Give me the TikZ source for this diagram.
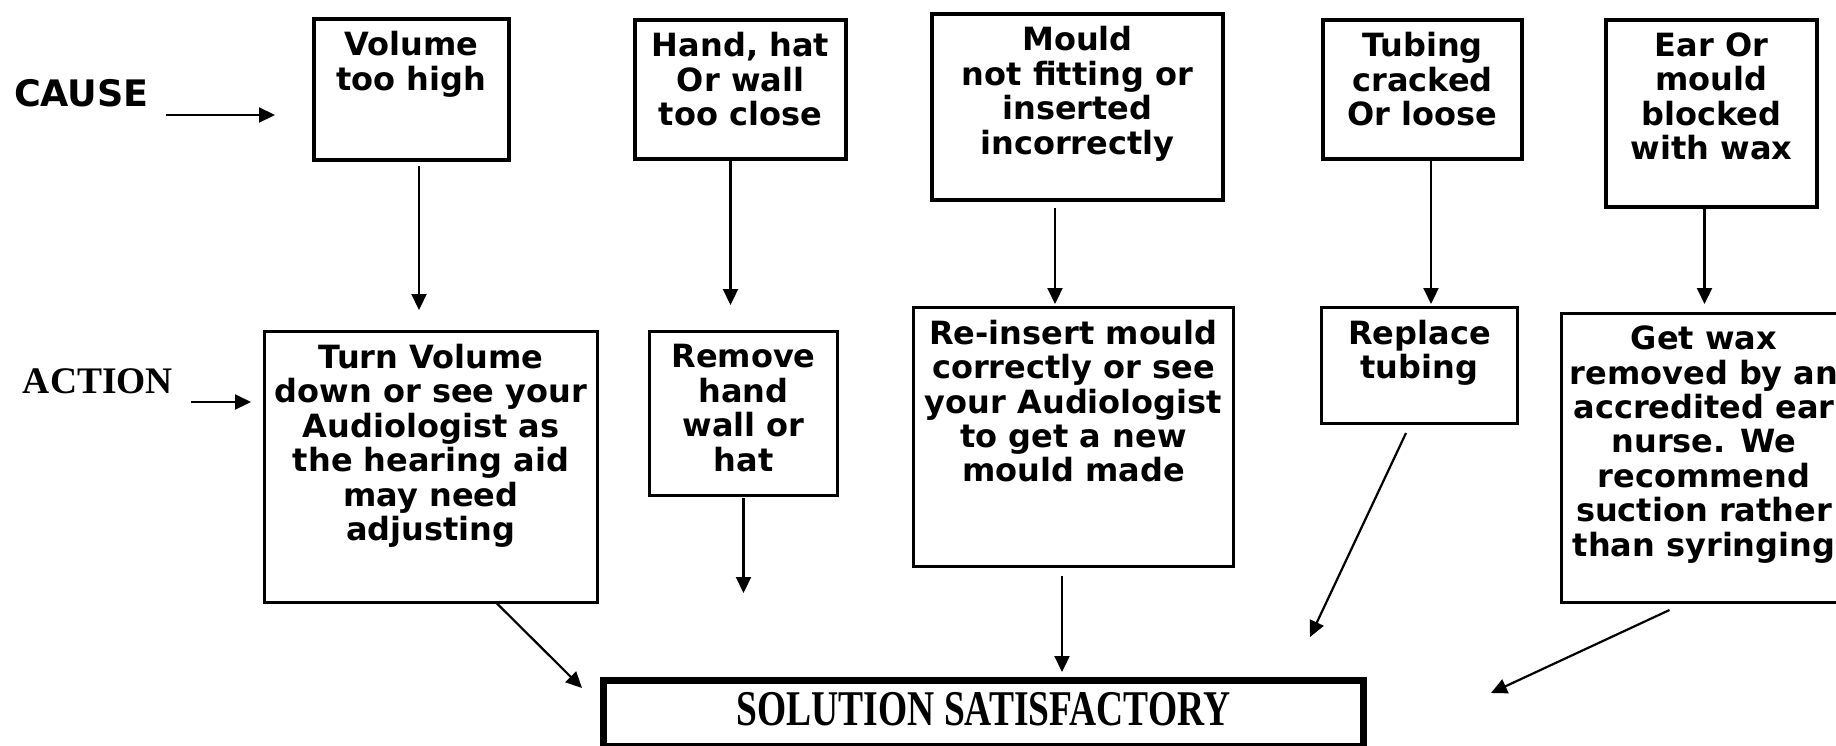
\documentclass[tikz,border=0pt]{standalone}
\usepackage{fontspec}
\usetikzlibrary{arrows.meta,calc}
\newfontfamily\vfont{DejaVu Sans}
\newfontfamily\tfont{Liberation Serif}
\newcommand\btext[3]{\vbox to #2{\vskip12.4pt\hbox to #1{\hss\begin{tabular}[t]{@{}c@{}}#3\end{tabular}\hss}\vfil}}
\begin{document}
\begin{tikzpicture}[x=1pt,y=-1pt,
  boxfont/.style={font=\vfont\bfseries\fontsize{32}{34}\selectfont},
  causebox/.style={draw,line width=4.3pt,inner sep=0pt,outer sep=0pt,boxfont},
  actbox/.style={draw,line width=3pt,inner sep=0pt,outer sep=0pt,boxfont},
  solbox/.style={draw,line width=7pt,inner sep=0pt,outer sep=0pt,minimum width=760pt,minimum height=66pt,
    text height=28pt,text depth=5pt,font=\tfont\bfseries\fontsize{50}{60}\selectfont},
  arr/.style={line width=2.2pt,-{Triangle[length=16pt,width=15pt]}}]
\useasboundingbox (0,0) rectangle (1836,745);
\fill[white] (0,0) rectangle (1836,745);

% labels
\node[anchor=base west,inner sep=0pt,outer sep=0pt,font=\vfont\bfseries\fontsize{36.5}{40}\selectfont] (cause) at (14,106) {CAUSE};
\node[anchor=base west,inner sep=0pt,outer sep=0pt,font=\tfont\bfseries\fontsize{37.5}{42}\selectfont] (action) at (23,393) {ACTION};

% cause boxes
\node[causebox] (c1) at (411.5,89.5) {\btext{195pt}{141pt}{Volume\\too high}};
\node[causebox] (c2) at (740.5,89.5) {\btext{211pt}{139pt}{Hand, hat\\Or wall\\too close}};
\node[causebox] (c3) at (1077.5,107) {\btext{291pt}{186pt}{Mould\\not fitting or\\inserted\\incorrectly}};
\node[causebox] (c4) at (1422.5,89.5) {\btext{199pt}{139pt}{Tubing\\cracked\\Or loose}};
\node[causebox] (c5) at (1711.5,113.5) {\btext{211pt}{187pt}{Ear Or\\mould\\blocked\\with wax}};

% action boxes
\node[actbox] (a1) at (431,467) {\btext{333pt}{271pt}{Turn Volume\\down or see your\\Audiologist as\\the hearing aid\\may need\\adjusting}};
\node[actbox] (a2) at (743.5,413.5) {\btext{188pt}{164pt}{Remove\\hand\\wall or\\hat}};
\node[actbox] (a3) at (1073.5,437) {\btext{320pt}{259pt}{Re-insert mould\\correctly or see\\your Audiologist\\to get a new\\mould made}};
\node[actbox] (a4) at (1419.5,365.5) {\btext{196pt}{116pt}{Replace\\tubing}};
\node[actbox] (a5) at (1704,458) {\btext{285pt}{289pt}{Get wax\\removed by an\\accredited ear\\nurse. We\\recommend\\suction rather\\than syringing}};

% solution
\node[solbox] (sol) at (983.5,713.5) {\scalebox{0.75}[1]{SOLUTION SATISFACTORY}};

% label arrows
\coordinate (ca) at ($(cause.base east)+(17,9)$);
\draw[arr] (ca) -- ($(ca -| c1.west)+(-39,0)$);
\coordinate (aa) at ($(action.base east)+(18,9)$);
\draw[arr] (aa) -- ($(aa -| a1.west)+(-13.5,0)$);

% cause -> action
\coordinate (s1) at ([xshift=7.5pt]c1.south);
\draw[arr,shorten <=6pt,shorten >=21.5pt] (s1) -- (s1 |- a1.north);
\coordinate (s2) at ([xshift=-10pt]c2.south);
\draw[arr,shorten >=26.5pt] (s2) -- (s2 |- a2.north);
\coordinate (s3) at ([xshift=-22.5pt]c3.south);
\draw[arr,shorten <=8pt,shorten >=3.5pt] (s3) -- (s3 |- a3.north);
\coordinate (s4) at ([xshift=8.5pt]c4.south);
\draw[arr,shorten >=3.5pt] (s4) -- (s4 |- a4.north);
\coordinate (s5) at ([xshift=-7pt]c5.south);
\draw[arr,shorten >=9.5pt] (s5) -- (s5 |- a5.north);

% action -> solution
\draw[arr] ([xshift=65pt]a1.south) -- ($(sol.north west)+(-21.5,7.5)$);
\coordinate (e2) at (743.5,593);
\draw[arr,shorten <=2.5pt] (a2.south) -- (e2);
\coordinate (s6) at ([xshift=-11.5pt]a3.south);
\draw[arr,shorten <=9.5pt,shorten >=8.5pt] (s6) -- (s6 |- sol.north);
\coordinate (e4) at (1310,637);
\draw[arr] ($(a4.south)+(-13.5,9.5)$) -- (e4);
\coordinate (e5) at (1491,693);
\draw[arr] ($(a5.south)+(-34.5,7.5)$) -- (e5);
\end{tikzpicture}
\end{document}
